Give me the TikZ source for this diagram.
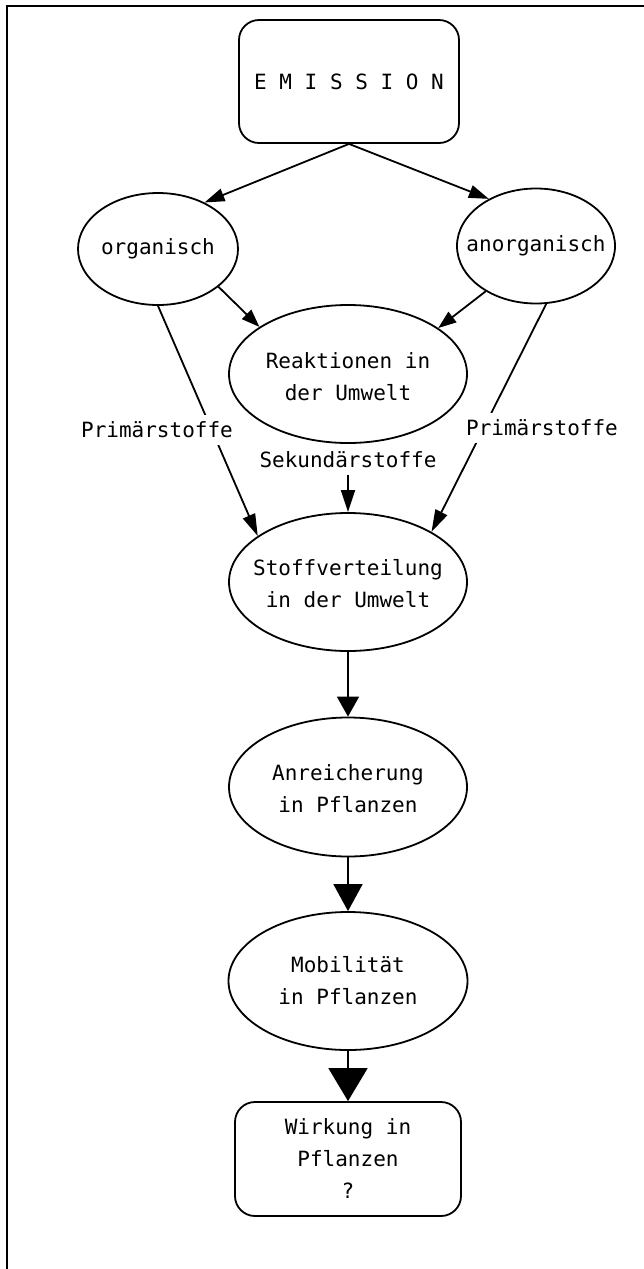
\documentclass[tikz,border=0pt]{standalone}
\usepackage{fontspec}
\setmonofont{DejaVu Sans Mono}
\usetikzlibrary{arrows.meta,shapes.geometric}
\newcommand\zt[2][-5bp]{\makebox[0pt]{\raisebox{#1}[0pt][0pt]{\begin{tabular}{@{}c@{}}#2\end{tabular}}}}
\begin{document}
\begin{tikzpicture}[x=1bp,y=-1bp,
  every node/.style={font=\ttfamily\fontsize{21bp}{32bp}\selectfont},
  ell/.style={draw,ellipse,line width=1.8bp,inner sep=0pt},
  rbox/.style={draw,rectangle,rounded corners=20bp,line width=1.8bp,inner sep=0pt},
  conn/.style={line width=1.8bp},
  lbl/.style={fill=white,inner xsep=2bp,inner ysep=7bp}
]
\useasboundingbox (0,0) rectangle (644,1269);
% frame
\draw[line width=2bp] (644,6) -- (7,6) -- (7,1269);
% nodes
\node[rbox,minimum width=220bp,minimum height=123bp] (emission) at (349,81.5) {E M I S S I O N};
\node[ell,minimum width=160bp,minimum height=112bp] (org) at (158,249) {\zt[-4bp]{organisch}};
\node[ell,minimum width=158bp,minimum height=115bp] (anorg) at (536,246) {\zt[-4bp]{anorganisch}};
\node[ell,minimum width=238bp,minimum height=138bp] (reak) at (348,374) {\zt[-9bp]{Reaktionen in\\der Umwelt}};
\node[ell,minimum width=238bp,minimum height=138bp] (stoff) at (348,582) {\zt[-8bp]{Stoffverteilung\\in der Umwelt}};
\node[ell,minimum width=238bp,minimum height=139bp] (anr) at (348,787) {\zt[-8bp]{Anreicherung\\in Pflanzen}};
\node[ell,minimum width=239bp,minimum height=138bp] (mob) at (348,981) {\zt[-6bp]{Mobilität\\in Pflanzen}};
\node[rbox,align=center,minimum width=226bp,minimum height=114bp] (wirk) at (348,1159) {Wirkung in\\Pflanzen\\?};
% connectors
\draw[conn,-{Triangle[length=20bp,width=13bp]}] (emission.south) -- (org.45);
\draw[conn,-{Triangle[length=20bp,width=13bp]}] (emission.south) -- (anorg.135);
\draw[conn,-{Triangle[length=18bp,width=13bp]}] (org.-32) -- (reak.152);
\draw[conn,-{Triangle[length=18bp,width=13bp]}] (anorg.-138) -- (reak.27);
\draw[conn,-{Triangle[length=22bp,width=13bp]}] (org.south) -- (stoff.153);
\draw[conn,-{Triangle[length=22bp,width=13bp]}] (anorg.-80) -- (stoff.31);
\node[lbl] (p1) at (157,430) {Primärstoffe};
\node[lbl] (p2) at (542,428) {Primärstoffe};
\node (sek) at (348,460) {Sekundärstoffe};
\draw[conn,-{Triangle[length=22bp,width=14bp]},shorten <=3bp] (sek.south) -- (stoff.north);
\draw[conn,-{Triangle[length=20bp,width=22bp]}] (stoff.south) -- (anr.north);
\draw[conn,-{Triangle[length=27bp,width=29bp]}] (anr.south) -- (mob.north);
\draw[conn,-{Triangle[length=33bp,width=39bp]}] (mob.south) -- (wirk.north);
\end{tikzpicture}
\end{document}
